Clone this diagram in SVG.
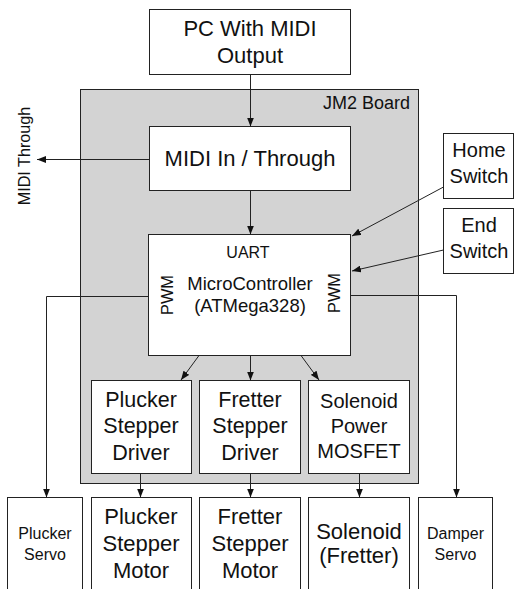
<svg xmlns="http://www.w3.org/2000/svg" width="515" height="589" viewBox="0 0 515 589">
<style>
.box{fill:#fff;stroke:#222;stroke-width:1}
.board{fill:#d3d3d3;stroke:#222;stroke-width:1}
.t{font-family:"Liberation Sans",Arial,sans-serif;fill:#111;text-anchor:middle}
.ln{fill:none;stroke:#222;stroke-width:1}
.arr{fill:none;stroke:#222;stroke-width:1;marker-end:url(#ah)}
</style>
<defs>
<marker id="ah" markerUnits="userSpaceOnUse" markerWidth="9" markerHeight="7" refX="9" refY="3.5" orient="auto">
<path d="M0,0 L9,3.5 L0,7 z" fill="#111"/>
</marker>
</defs>
<rect width="515" height="589" fill="#fff"/>
<g id="board">
<rect class="board" x="80.5" y="89.5" width="338" height="394"/>
<text class="t" x="410" y="109" font-size="18" style="text-anchor:end">JM2 Board</text>
</g>
<g id="pc">
<rect class="box" x="149.5" y="9.5" width="201" height="65"/>
<text class="t" x="250" y="36" font-size="22">PC With MIDI</text>
<text class="t" x="250" y="63" font-size="22">Output</text>
</g>
<g id="midi">
<rect class="box" x="149.5" y="126.5" width="201" height="64"/>
<text class="t" x="250" y="166" font-size="22">MIDI In / Through</text>
</g>
<g id="mc">
<rect class="box" x="148.5" y="234.5" width="202" height="121"/>
<text class="t" x="248" y="258" font-size="16">UART</text>
<text class="t" x="250" y="290" font-size="18.5">MicroController</text>
<text class="t" x="250" y="312" font-size="18.5">(ATMega328)</text>
<text class="t" font-size="16.4" transform="translate(172.5,295) rotate(-90)">PWM</text>
<text class="t" font-size="16.4" transform="translate(339.5,293) rotate(-90)">PWM</text>
</g>
<g id="home">
<rect class="box" x="443.5" y="133.5" width="70" height="65"/>
<text class="t" x="479" y="157" font-size="20">Home</text>
<text class="t" x="479" y="183" font-size="20">Switch</text>
</g>
<g id="end">
<rect class="box" x="443.5" y="208.5" width="70" height="65"/>
<text class="t" x="479" y="232" font-size="20">End</text>
<text class="t" x="479" y="258" font-size="20">Switch</text>
</g>
<g id="pdriver">
<rect class="box" x="91.5" y="380.5" width="100" height="93"/>
<text class="t" x="141" y="407" font-size="21.5">Plucker</text>
<text class="t" x="141" y="433" font-size="21.5">Stepper</text>
<text class="t" x="141" y="460" font-size="21.5">Driver</text>
</g>
<g id="fdriver">
<rect class="box" x="199.5" y="380.5" width="101" height="93"/>
<text class="t" x="250" y="407" font-size="21.5">Fretter</text>
<text class="t" x="250" y="433" font-size="21.5">Stepper</text>
<text class="t" x="250" y="460" font-size="21.5">Driver</text>
</g>
<g id="mosfet">
<rect class="box" x="308.5" y="380.5" width="101" height="93"/>
<text class="t" x="359" y="408" font-size="20">Solenoid</text>
<text class="t" x="359" y="433" font-size="20">Power</text>
<text class="t" x="359" y="458" font-size="20">MOSFET</text>
</g>
<g id="pservo">
<rect class="box" x="7.5" y="497.5" width="75" height="100"/>
<text class="t" x="45" y="539" font-size="16">Plucker</text>
<text class="t" x="45" y="560" font-size="16">Servo</text>
</g>
<g id="pmotor">
<rect class="box" x="91.5" y="497.5" width="100" height="100"/>
<text class="t" x="141" y="524" font-size="22">Plucker</text>
<text class="t" x="141" y="551" font-size="22">Stepper</text>
<text class="t" x="141" y="578" font-size="22">Motor</text>
</g>
<g id="fmotor">
<rect class="box" x="199.5" y="497.5" width="101" height="100"/>
<text class="t" x="250" y="524" font-size="22">Fretter</text>
<text class="t" x="250" y="551" font-size="22">Stepper</text>
<text class="t" x="250" y="578" font-size="22">Motor</text>
</g>
<g id="solenoid">
<rect class="box" x="308.5" y="497.5" width="101" height="100"/>
<text class="t" x="359" y="539" font-size="22">Solenoid</text>
<text class="t" x="359" y="563" font-size="22">(Fretter)</text>
</g>
<g id="dservo">
<rect class="box" x="418.5" y="497.5" width="74" height="100"/>
<text class="t" x="455.5" y="539" font-size="16">Damper</text>
<text class="t" x="455.5" y="560" font-size="16">Servo</text>
</g>
<text class="t" font-size="16.2" transform="translate(30,156) rotate(-90)">MIDI Through</text>
<g id="connectors">
<line class="arr" x1="250.5" y1="74.5" x2="250.5" y2="126.5"/>
<line class="arr" x1="149.5" y1="159.5" x2="37" y2="159.5"/>
<line class="arr" x1="250.5" y1="190.5" x2="250.5" y2="234.5"/>
<line class="arr" x1="443.5" y1="187" x2="352" y2="236"/>
<line class="arr" x1="443.5" y1="250" x2="352" y2="271"/>
<polyline class="arr" points="148.5,296.5 46.5,296.5 46.5,497.5"/>
<polyline class="arr" points="350.5,295.5 456.5,295.5 456.5,497.5"/>
<line class="arr" x1="199" y1="355.5" x2="181" y2="380"/>
<line class="arr" x1="250.5" y1="355.5" x2="250.5" y2="380.5"/>
<line class="arr" x1="301" y1="355.5" x2="319" y2="380"/>
<line class="arr" x1="140.5" y1="473.5" x2="140.5" y2="497.5"/>
<line class="arr" x1="250.5" y1="473.5" x2="250.5" y2="497.5"/>
<line class="arr" x1="359.5" y1="473.5" x2="359.5" y2="497.5"/>
</g>
</svg>
